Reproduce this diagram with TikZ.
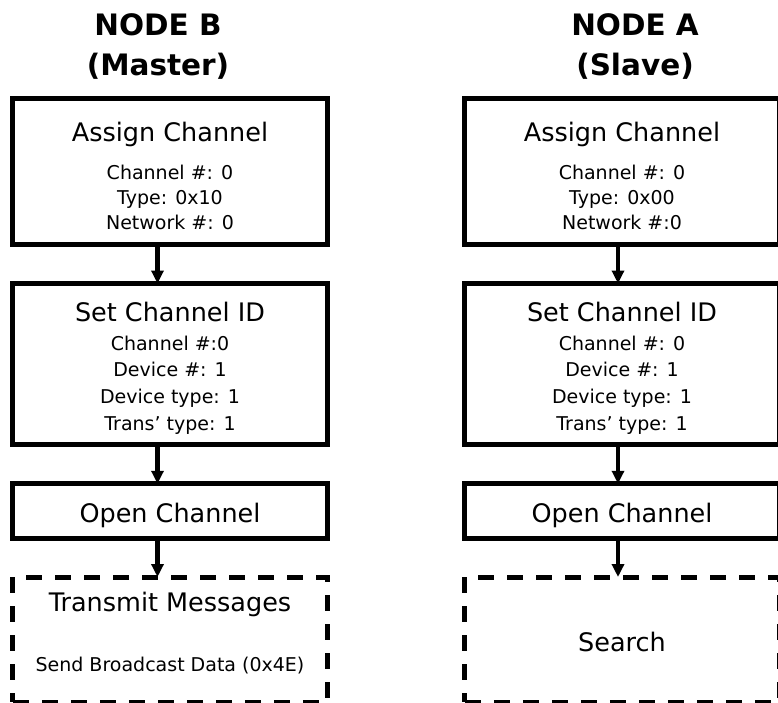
\documentclass[tikz,border=0pt]{standalone}
\usepackage{fontspec}
\setmainfont{DejaVu Sans}
\usetikzlibrary{arrows.meta}

\newcommand{\headline}[1]{{\fontsize{25.5}{30}\selectfont\rule{0pt}{28.3pt}#1}}

\tikzset{
  stage/.style={draw, line width=5pt, minimum width=314.5pt, inner sep=0pt, outer sep=0pt, align=center, font=\fontsize{19}{25}\selectfont},
  pending/.style={stage, dash pattern=on 16pt off 13pt},
  flow/.style={line width=4.5pt, -{Triangle[length=13pt,width=12pt]}},
  role/.style={align=center, inner sep=0pt, font=\fontsize{29.5}{40}\selectfont\bfseries}
}

\begin{document}
\begin{tikzpicture}[x=1pt, y=-1pt]
\useasboundingbox (0,0) rectangle (778,703);
\clip (0,0) rectangle (778,703);

\node[role] (roleB) at (158,46.2) {NODE B\\(Master)};
\node[role] (roleA) at (635,46.2) {NODE A\\(Slave)};

\coordinate (colB) at (157.5,0);
\coordinate (colA) at (618,0);

% node B (master)
\node[stage, minimum height=145pt] (assignB) at (170,171.5) {\headline{Assign Channel}\\[13.3pt]Channel \#: 0\\Type: 0x10\\Network \#: 0};
\node[stage, minimum height=161pt, font=\fontsize{19}{26.7}\selectfont] (idB) at (170,364) {\headline{Set Channel ID}\\[1.6pt]Channel \#:0\\Device \#: 1\\Device type: 1\\Trans’ type: 1};
\node[stage, minimum height=54.5pt] (openB) at (170,511) {\headline{Open Channel}};
\node[pending, minimum height=125pt] (sendB) at (170,639.5) {{\fontsize{25.5}{30}\selectfont Transmit Messages}\\[35pt]Send Broadcast Data (0x4E)\rule[-14.4pt]{0pt}{0pt}};

% node A (slave)
\node[stage, minimum height=145pt] (assignA) at (622,171.5) {\headline{Assign Channel}\\[13.3pt]Channel \#: 0\\Type: 0x00\\Network \#:0};
\node[stage, minimum height=161pt, font=\fontsize{19}{26.7}\selectfont] (idA) at (622,364) {\headline{Set Channel ID}\\[1.6pt]Channel \#: 0\\Device \#: 1\\Device type: 1\\Trans’ type: 1};
\node[stage, minimum height=54.5pt] (openA) at (622,511) {\headline{Open Channel}};
\node[pending, minimum height=125pt] (searchA) at (622,639.5) {{\fontsize{25.5}{30}\selectfont\rule{0pt}{24.4pt}Search}};

\begin{scope}[flow]
\draw (assignB.south -| colB) -- (idB.north -| colB); %assign-id
\draw (idB.south -| colB) -- (openB.north -| colB); %id-open
\draw (openB.south -| colB) -- (sendB.north -| colB); %open-send
\draw (assignA.south -| colA) -- (idA.north -| colA); %assign-id
\draw (idA.south -| colA) -- (openA.north -| colA); %id-open
\draw (openA.south -| colA) -- (searchA.north -| colA); %open-search
\end{scope}

\end{tikzpicture}
\end{document}
